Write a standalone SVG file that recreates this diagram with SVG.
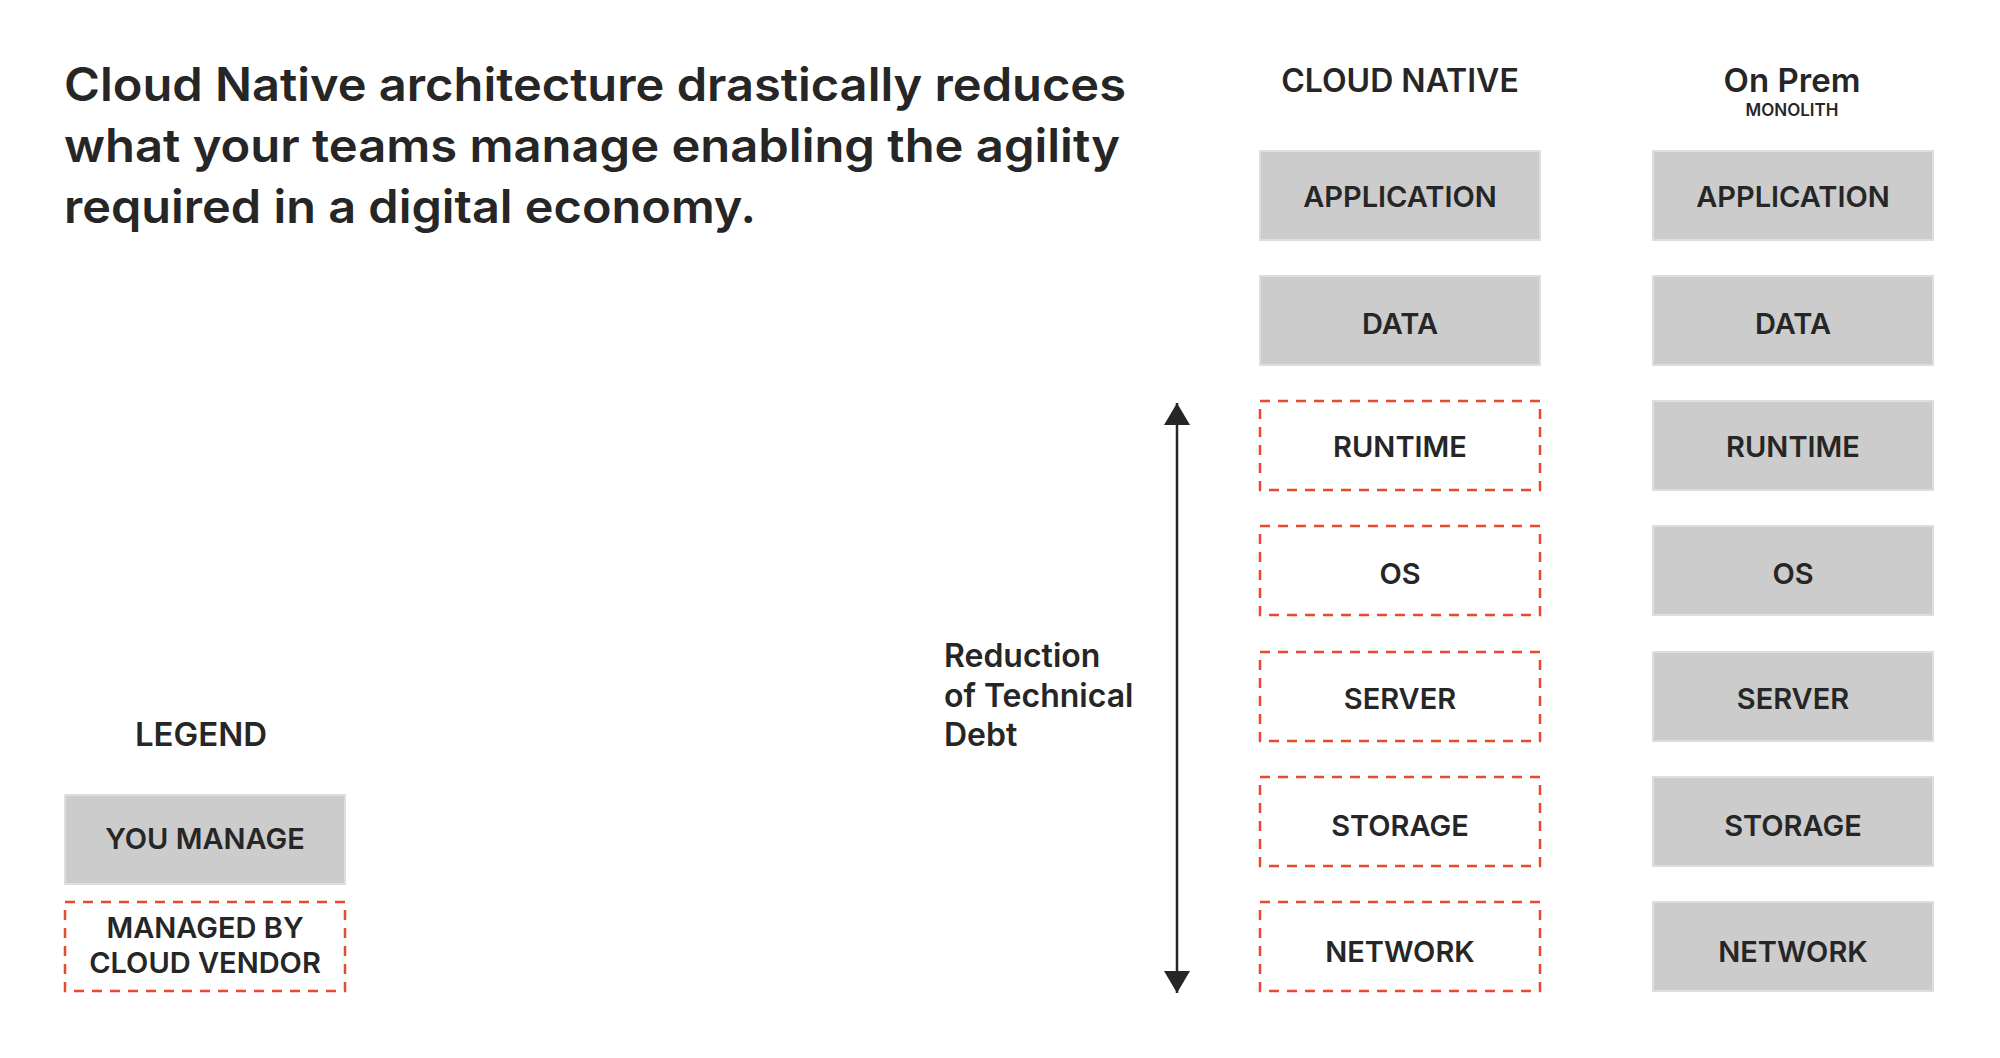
<svg xmlns="http://www.w3.org/2000/svg" width="2000" height="1058" viewBox="0 0 2000 1058">
<defs>
<style>
text{font-family:Inter,"Liberation Sans",sans-serif;fill:#262626}
.title{font-size:46px;font-weight:600}
.hdr{font-size:32px;font-weight:600;text-anchor:middle}
.hdr2{font-size:33px;font-weight:600;text-anchor:middle}
.lbl{font-size:29px;font-weight:600;text-anchor:middle}
.small{font-size:17px;font-weight:600;text-anchor:middle}
.side{font-size:32px;font-weight:600}
.you{fill:#cccccc;stroke:#dedede;stroke-width:2}
.vendor{fill:#ffffff;stroke:#e84a2f;stroke-width:2.5;stroke-dasharray:10 8}
</style>
<marker id="ah" viewBox="0 0 22 26" refX="22" refY="13" markerWidth="22" markerHeight="26" markerUnits="userSpaceOnUse" orient="auto-start-reverse">
<path d="M0,0 L22,13 L0,26 z" fill="#262626"/>
</marker>
</defs>
<rect width="2000" height="1058" fill="#ffffff"/>

<g id="title">
<text class="title" x="64" y="101" textLength="1062" lengthAdjust="spacingAndGlyphs">Cloud Native architecture drastically reduces</text>
<text class="title" x="64" y="162" textLength="1056" lengthAdjust="spacingAndGlyphs">what your teams manage enabling the agility</text>
<text class="title" x="64" y="223" textLength="692" lengthAdjust="spacingAndGlyphs">required in a digital economy.</text>
</g>

<g id="header-cloud-native"><text class="hdr" x="1400" y="92">CLOUD NATIVE</text></g>
<g id="header-on-prem">
<text class="hdr2" x="1792" y="92">On Prem</text>
<text class="small" x="1792" y="116">MONOLITH</text>
</g>

<g id="cn-application"><rect class="you" x="1260" y="151" width="280" height="89"/><text class="lbl" x="1400" y="207">APPLICATION</text></g>
<g id="cn-data"><rect class="you" x="1260" y="276" width="280" height="89"/><text class="lbl" x="1400" y="334">DATA</text></g>
<g id="cn-runtime"><rect class="vendor" x="1260" y="401" width="280" height="89"/><text class="lbl" x="1400" y="457">RUNTIME</text></g>
<g id="cn-os"><rect class="vendor" x="1260" y="526" width="280" height="89"/><text class="lbl" x="1400" y="584">OS</text></g>
<g id="cn-server"><rect class="vendor" x="1260" y="652" width="280" height="89"/><text class="lbl" x="1400" y="709">SERVER</text></g>
<g id="cn-storage"><rect class="vendor" x="1260" y="777" width="280" height="89"/><text class="lbl" x="1400" y="836">STORAGE</text></g>
<g id="cn-network"><rect class="vendor" x="1260" y="902" width="280" height="89"/><text class="lbl" x="1400" y="962">NETWORK</text></g>

<g id="op-application"><rect class="you" x="1653" y="151" width="280" height="89"/><text class="lbl" x="1793" y="207">APPLICATION</text></g>
<g id="op-data"><rect class="you" x="1653" y="276" width="280" height="89"/><text class="lbl" x="1793" y="334">DATA</text></g>
<g id="op-runtime"><rect class="you" x="1653" y="401" width="280" height="89"/><text class="lbl" x="1793" y="457">RUNTIME</text></g>
<g id="op-os"><rect class="you" x="1653" y="526" width="280" height="89"/><text class="lbl" x="1793" y="584">OS</text></g>
<g id="op-server"><rect class="you" x="1653" y="652" width="280" height="89"/><text class="lbl" x="1793" y="709">SERVER</text></g>
<g id="op-storage"><rect class="you" x="1653" y="777" width="280" height="89"/><text class="lbl" x="1793" y="836">STORAGE</text></g>
<g id="op-network"><rect class="you" x="1653" y="902" width="280" height="89"/><text class="lbl" x="1793" y="962">NETWORK</text></g>

<g id="connectors">
<line x1="1177" y1="403" x2="1177" y2="993" stroke="#262626" stroke-width="2.5" marker-start="url(#ah)" marker-end="url(#ah)"/>
</g>

<g id="reduction-label">
<text class="side" x="944" y="667">Reduction</text>
<text class="side" x="944" y="707">of Technical</text>
<text class="side" x="944" y="746">Debt</text>
</g>

<g id="legend-title"><text class="hdr2" x="201" y="746">LEGEND</text></g>
<g id="legend-you-manage"><rect class="you" x="65" y="795" width="280" height="89"/><text class="lbl" x="205" y="849">YOU MANAGE</text></g>
<g id="legend-vendor"><rect class="vendor" x="65" y="902" width="280" height="89"/>
<text class="lbl" x="205" y="938">MANAGED BY</text>
<text class="lbl" x="205" y="973">CLOUD VENDOR</text></g>
</svg>
